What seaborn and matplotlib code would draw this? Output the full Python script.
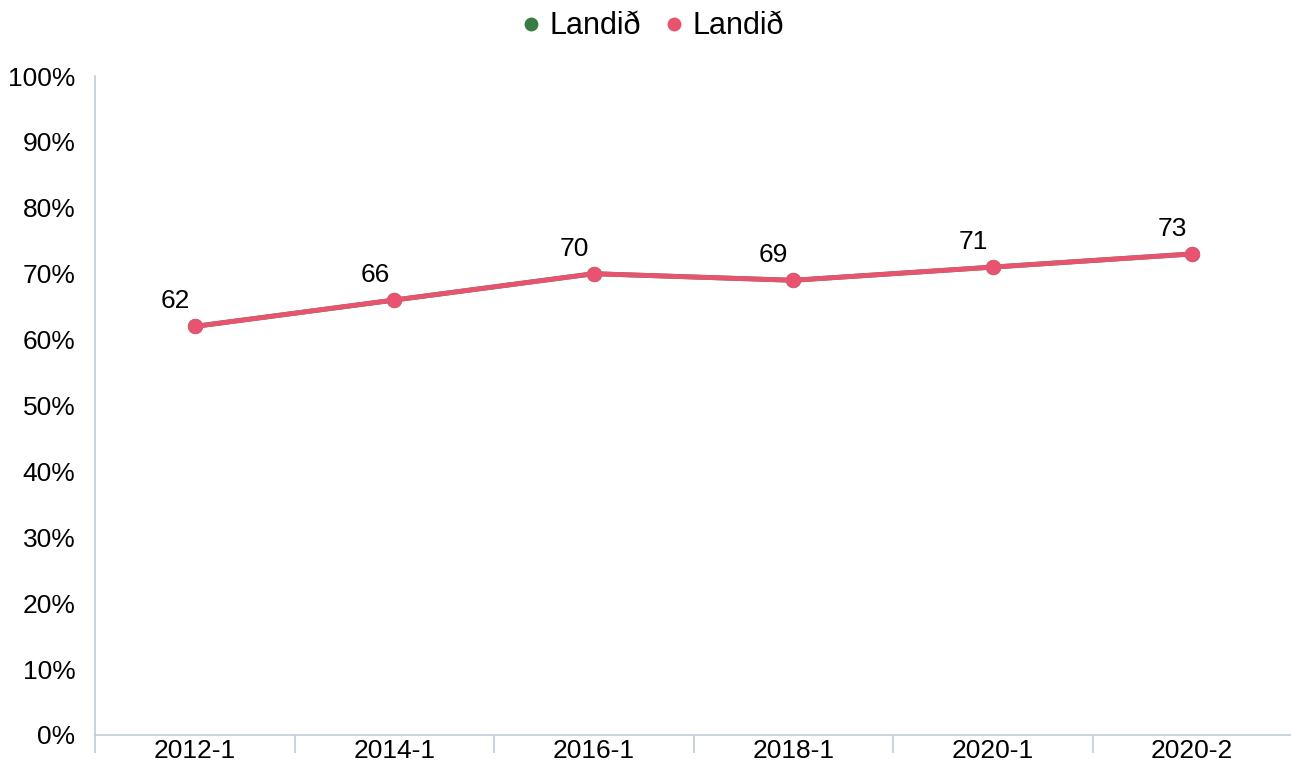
import matplotlib
matplotlib.use("Agg")
import matplotlib.pyplot as plt
import seaborn as sns
import pandas as pd
from matplotlib.lines import Line2D
from matplotlib.ticker import FixedLocator, FuncFormatter

# data
periods = ["2012-1", "2014-1", "2016-1", "2018-1", "2020-1", "2020-2"]
landid_a = [62, 66, 70, 69, 71, 73]
landid_b = [62, 66, 70, 69, 71, 73]
series_names = ["Landið", "Landið"]
series_colors = ["#3a7d44", "#e8546f"]

sns.set_style("white")
plt.rcParams['font.family'] = ['Liberation Sans', 'DejaVu Sans']

fig = plt.figure(figsize=(12.91, 7.63), dpi=100)
ax = fig.add_axes([95 / 1291, 1 - 735 / 763, 1197 / 1291, (735 - 76) / 763])

for vals, name, col in zip([landid_a, landid_b], series_names, series_colors):
    df = pd.DataFrame({"period": periods, "value": vals})
    sns.lineplot(data=df, x="period", y="value", ax=ax, color=col, lw=3.5,
                 marker="o", markersize=11, markeredgewidth=0, legend=False)

for i, v in enumerate(landid_b):
    ax.annotate(str(v), (i, v), xytext=(-14, 18), textcoords="offset points",
                ha="center", va="center", fontsize=19, color="black")

ax.set_ylim(0, 100)
ax.set_xlim(-0.5, len(periods) - 0.5)
ax.set_yticks(range(0, 101, 10))
ax.yaxis.set_major_formatter(FuncFormatter(lambda v, p: f"{int(v)}%"))
ax.set_xticks(range(len(periods)))
ax.set_xticklabels(periods)
ax.xaxis.set_minor_locator(FixedLocator([i - 0.5 for i in range(len(periods) + 1)]))
ax.tick_params(axis="x", which="major", length=0, labelsize=19, pad=3,
               labelcolor="black")
ax.tick_params(axis="x", which="minor", length=13, width=1.2, color="#bfccda", bottom=True)
ax.tick_params(axis="y", length=0, labelsize=19, pad=14, labelcolor="black")
ax.set_xlabel("")
ax.set_ylabel("")

for s in ["top", "right"]:
    ax.spines[s].set_visible(False)
for s in ["left", "bottom"]:
    ax.spines[s].set_color("#bfccda")
    ax.spines[s].set_linewidth(1.2)

handles = [Line2D([], [], ls="None", marker="o", markersize=10, markeredgewidth=0, color=c)
           for c in series_colors]
ax.legend(handles, series_names, loc="upper center", bbox_to_anchor=(0.4637, 1.14),
          ncol=2, frameon=False, fontsize=22, handletextpad=0.1, columnspacing=0.6,
          handlelength=1.0, labelcolor="black")

fig.savefig("out.png", dpi=100)
